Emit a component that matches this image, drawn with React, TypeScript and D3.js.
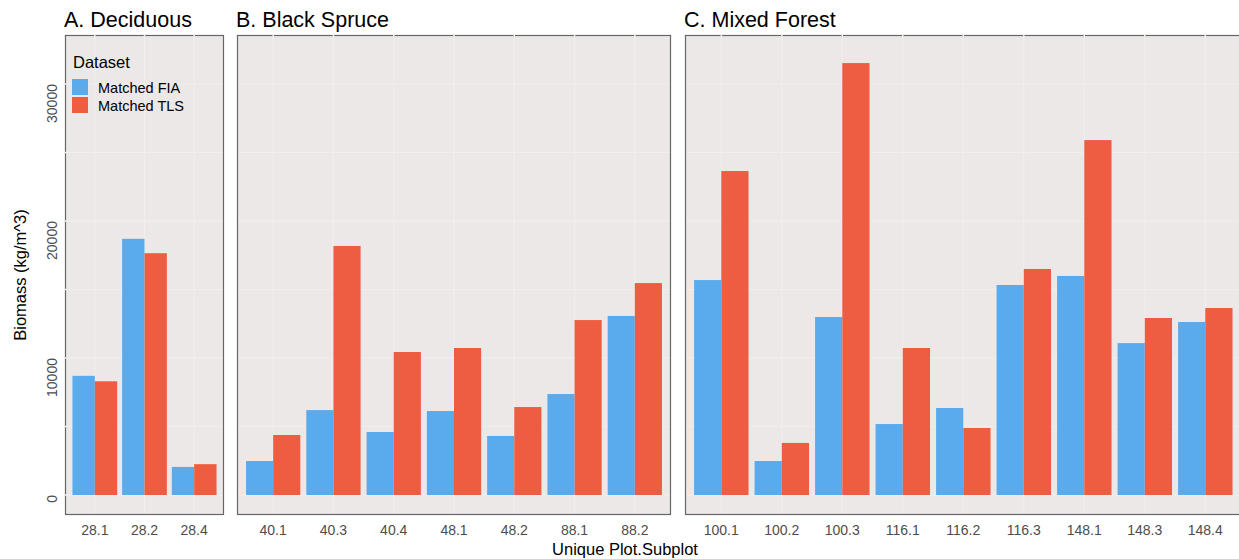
import React from "react";
import * as d3 from "d3";

const panelTitles = ["A. Deciduous", "B. Black Spruce", "C. Mixed Forest"];
const catsA = ["28.1", "28.2", "28.4"];
const catsB = ["40.1", "40.3", "40.4", "48.1", "48.2", "88.1", "88.2"];
const catsC = ["100.1", "100.2", "100.3", "116.1", "116.2", "116.3", "148.1", "148.3", "148.4"];
const fiaA = [8700, 18700, 2050];
const tlsA = [8300, 17650, 2250];
const fiaB = [2480, 6200, 4600, 6130, 4310, 7370, 13070];
const tlsB = [4380, 18180, 10440, 10730, 6420, 12770, 15470];
const fiaC = [15690, 2480, 12990, 5180, 6350, 15330, 15990, 11090, 12630];
const tlsC = [23650, 3800, 31530, 10730, 4890, 16500, 25910, 12920, 13650];
const yTicks = [0, 10000, 20000, 30000];
const yMinor = [5000, 15000, 25000];
const seriesNames = ["Matched FIA", "Matched TLS"];
const colors = ["#5AABEE", "#EE5C41"];

const W = 1239, H = 559;
const top = 35, bottom = 515;
const y = d3.scaleLinear().domain([-1460, 33580]).range([bottom, top]);

const panels = [
  { title: panelTitles[0], cats: catsA, fia: fiaA, tls: tlsA, x0: 65, x1: 224, step: 49.7 },
  { title: panelTitles[1], cats: catsB, fia: fiaB, tls: tlsB, x0: 237, x1: 671, step: 60.3 },
  { title: panelTitles[2], cats: catsC, fia: fiaC, tls: tlsC, x0: 685, x1: 685 + 9.2 * 60.5, step: 60.5 },
];

const font = "'Liberation Sans', Arial, sans-serif";

export default function App() {
  return (
    <svg width={W} height={H} style={{ position: "absolute", left: 0, top: 0, background: "#fff" }} fontFamily={font}>
      {panels.map((p, pi) => {
        const x = d3
          .scalePoint<string>()
          .domain(p.cats)
          .range([p.x0 + 0.6 * p.step, p.x1 - 0.6 * p.step]);
        const bw = (0.9 * p.step) / 2;
        return (
          <g key={pi}>
            <clipPath id={`clip${pi}`}>
              <rect x={p.x0} y={top} width={p.x1 - p.x0} height={bottom - top} />
            </clipPath>
            <rect x={p.x0} y={top} width={p.x1 - p.x0} height={bottom - top} fill="#ECE8E7" />
            <g clipPath={`url(#clip${pi})`}>
              {yMinor.map((t) => (
                <line key={"m" + t} x1={p.x0} x2={p.x1} y1={y(t)} y2={y(t)} stroke="#F1EFEE" strokeWidth={0.8} />
              ))}
              {yTicks.map((t) => (
                <line key={"M" + t} x1={p.x0} x2={p.x1} y1={y(t)} y2={y(t)} stroke="#F1EFEE" strokeWidth={1} />
              ))}
              {p.cats.map((c) => (
                <line key={"v" + c} x1={x(c)!} x2={x(c)!} y1={top} y2={bottom} stroke="#F1EFEE" strokeWidth={1} />
              ))}
              {p.cats.map((c, i) => (
                <g key={"b" + c}>
                  <rect x={x(c)! - bw} y={y(p.fia[i])} width={bw} height={y(0) - y(p.fia[i])} fill={colors[0]} />
                  <rect x={x(c)!} y={y(p.tls[i])} width={bw} height={y(0) - y(p.tls[i])} fill={colors[1]} />
                </g>
              ))}
            </g>
            <rect x={p.x0 + 0.5} y={top + 0.5} width={p.x1 - p.x0 - 1} height={bottom - top - 1} fill="none" stroke="#666" strokeWidth={1.2} />
            {p.cats.map((c) => (
              <line key={"s" + c} x1={x(c)!} x2={x(c)!} y1={top - 1} y2={top + 2} stroke="#F4F2F1" strokeWidth={1.5} />
            ))}
            <text x={p.x0 - 1} y={27} fontSize={21.5} fill="#000">{p.title}</text>
            {p.cats.map((c) => (
              <text key={"t" + c} x={x(c)!} y={535} fontSize={14} fill="#4D4D4D" textAnchor="middle">{c}</text>
            ))}
          </g>
        );
      })}
      {[...yTicks, ...yMinor].map((t) => (
        <line key={"ls" + t} x1={64} x2={67} y1={y(t)} y2={y(t)} stroke="#F4F2F1" strokeWidth={1.5} />
      ))}
      {yTicks.map((t) => (
        <text key={"y" + t} transform={`translate(57,${y(t)}) rotate(-90)`} fontSize={14} fill="#4D4D4D" textAnchor="end">{t}</text>
      ))}
      <text transform={`translate(26,${(top + bottom) / 2}) rotate(-90)`} fontSize={16.5} fill="#000" textAnchor="middle">Biomass (kg/m^3)</text>
      <text x={625} y={555} fontSize={16.5} fill="#000" textAnchor="middle">Unique Plot.Subplot</text>
      <g>
        <text x={73} y={68} fontSize={16.5} fill="#000">Dataset</text>
        {seriesNames.map((s, i) => (
          <g key={s}>
            <rect x={72} y={79 + i * 18} width={16} height={16} fill={colors[i]} />
            <text x={98} y={93 + i * 18} fontSize={14.5} fill="#000">{s}</text>
          </g>
        ))}
      </g>
    </svg>
  );
}
